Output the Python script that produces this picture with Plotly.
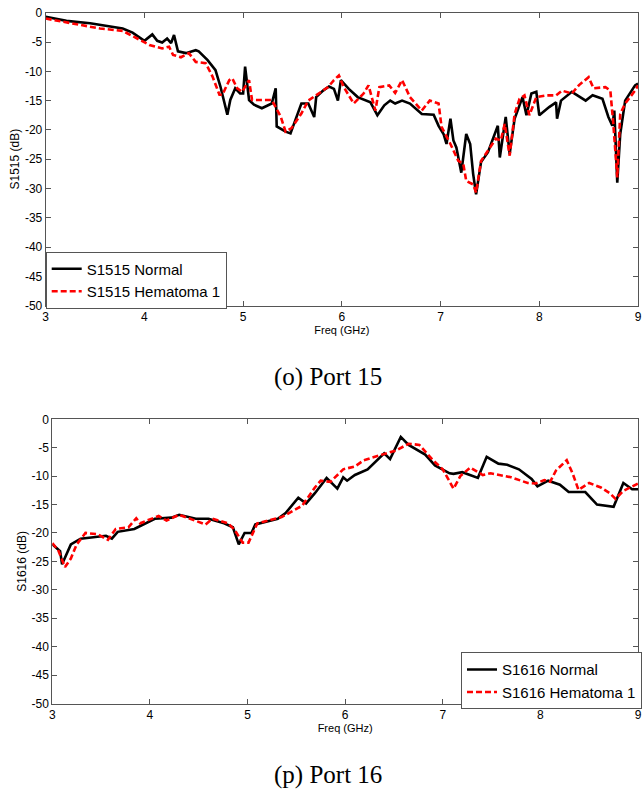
import plotly.graph_objects as go

# Port 15 reflection, S1515 (dB) vs frequency (GHz)
f15_normal = [3.00, 3.21, 3.45, 3.55, 3.78, 3.88, 4.00, 4.08, 4.13, 4.18, 4.23, 4.27, 4.30, 4.34,
              4.42, 4.52, 4.55, 4.64, 4.72, 4.77, 4.84, 4.87, 4.92, 4.97, 5.00, 5.02, 5.06, 5.11,
              5.19, 5.29, 5.33, 5.34, 5.43, 5.48, 5.59, 5.66, 5.72, 5.74, 5.81, 5.87, 5.92, 5.96,
              5.99, 6.07, 6.16, 6.29, 6.36, 6.43, 6.49, 6.54, 6.61, 6.69, 6.81, 6.93, 6.98, 7.03,
              7.06, 7.10, 7.13, 7.16, 7.21, 7.26, 7.30, 7.33, 7.36, 7.41, 7.48, 7.58, 7.60, 7.66,
              7.70, 7.75, 7.83, 7.87, 7.92, 7.97, 8.00, 8.10, 8.17, 8.18, 8.22, 8.33, 8.47, 8.54,
              8.64, 8.70, 8.74, 8.76, 8.79, 8.82, 8.87, 8.97, 9.00]
s15_normal = [-0.7, -1.4, -1.8, -2.1, -2.7, -3.4, -4.8, -3.7, -4.8, -5.1, -4.4, -5.2, -3.8, -6.6,
              -6.9, -6.4, -6.6, -8.1, -9.8, -12.6, -17.4, -14.9, -12.9, -13.8, -13.8, -9.2, -14.9, -15.7,
              -16.3, -15.5, -12.9, -19.4, -20.3, -20.6, -15.5, -15.5, -17.8, -14.4, -13.3, -12.6, -13.0, -15.0,
              -11.5, -13.0, -14.4, -15.3, -17.5, -15.8, -15.0, -15.5, -15.0, -15.5, -17.3, -17.4, -19.3, -20.7,
              -22.4, -18.1, -21.8, -23.0, -27.3, -20.7, -22.4, -27.5, -31.0, -25.5, -23.8, -19.3, -24.7, -17.8,
              -24.1, -18.1, -14.4, -17.5, -13.8, -13.5, -17.5, -16.1, -15.3, -18.1, -15.0, -13.5, -15.0, -14.1,
              -14.7, -17.8, -19.3, -16.7, -29.0, -20.7, -15.0, -12.4, -12.1]

f15_hema = [3.00, 3.55, 3.78, 3.92, 4.05, 4.18, 4.25, 4.29, 4.37, 4.45, 4.52, 4.62, 4.69, 4.76,
            4.79, 4.86, 4.89, 4.94, 4.99, 5.06, 5.09, 5.19, 5.29, 5.38, 5.43, 5.49, 5.59, 5.66,
            5.76, 5.86, 5.92, 5.97, 6.02, 6.12, 6.22, 6.27, 6.34, 6.38, 6.48, 6.54, 6.61, 6.69,
            6.81, 6.89, 6.98, 7.01, 7.10, 7.18, 7.23, 7.26, 7.33, 7.36, 7.41, 7.48, 7.56, 7.61,
            7.65, 7.70, 7.75, 7.80, 7.85, 7.90, 7.97, 8.07, 8.17, 8.23, 8.33, 8.40, 8.50, 8.55,
            8.67, 8.72, 8.75, 8.79, 8.82, 8.87, 8.97, 9.00]
s15_hema = [-1.0, -2.7, -3.1, -4.4, -5.5, -6.1, -5.8, -7.2, -7.6, -6.9, -8.4, -8.6, -10.9, -14.0,
            -14.0, -11.5, -11.2, -12.9, -13.5, -11.5, -14.9, -14.9, -14.9, -17.7, -20.3, -19.7, -17.2, -15.0,
            -13.8, -12.7, -11.5, -10.7, -12.7, -15.5, -13.8, -12.4, -16.7, -12.7, -12.4, -13.7, -11.5, -14.4,
            -16.7, -15.0, -15.5, -19.5, -22.4, -25.3, -25.8, -28.7, -29.3, -30.7, -25.3, -23.5, -21.5, -21.8,
            -19.0, -24.4, -17.3, -14.7, -14.1, -17.5, -14.4, -14.1, -14.1, -13.3, -13.8, -12.4, -11.0, -12.9,
            -12.7, -13.3, -19.0, -28.1, -17.3, -15.5, -13.3, -12.4]

# Port 16 reflection, S1616 (dB) vs frequency (GHz)
f16_normal = [3.00, 3.08, 3.10, 3.19, 3.29, 3.42, 3.55, 3.61, 3.67, 3.84, 4.05, 4.22, 4.30, 4.47,
              4.60, 4.76, 4.85, 4.91, 4.97, 5.04, 5.08, 5.31, 5.39, 5.52, 5.60, 5.69, 5.81, 5.92,
              5.98, 6.02, 6.10, 6.23, 6.40, 6.46, 6.57, 6.65, 6.82, 6.92, 7.07, 7.11, 7.20, 7.36,
              7.45, 7.57, 7.66, 7.78, 7.91, 7.97, 8.08, 8.20, 8.29, 8.46, 8.58, 8.75, 8.85, 8.94, 9.00]
s16_normal = [-22.0, -23.2, -25.5, -22.0, -21.0, -20.8, -20.5, -21.0, -19.8, -19.3, -17.5, -17.3, -16.8, -17.5,
              -17.5, -18.3, -19.0, -22.0, -20.0, -20.0, -18.5, -17.5, -16.5, -13.8, -14.8, -13.0, -10.3, -12.2,
              -10.2, -10.8, -9.8, -8.8, -6.0, -7.0, -3.1, -4.5, -6.2, -8.1, -9.5, -9.6, -9.3, -10.3,
              -6.6, -7.8, -8.0, -8.8, -10.5, -11.8, -10.8, -11.5, -12.8, -12.8, -15.0, -15.4, -11.2, -12.3, -12.3]

f16_hema = [3.00, 3.06, 3.13, 3.19, 3.25, 3.34, 3.46, 3.57, 3.65, 3.78, 3.86, 3.90, 4.09, 4.17,
            4.30, 4.47, 4.57, 4.64, 4.80, 4.87, 4.95, 5.01, 5.10, 5.35, 5.56, 5.69, 5.75, 5.85,
            5.98, 6.10, 6.19, 6.36, 6.52, 6.65, 6.76, 6.90, 7.00, 7.11, 7.18, 7.28, 7.41, 7.49,
            7.70, 7.87, 7.95, 8.04, 8.10, 8.16, 8.27, 8.33, 8.39, 8.50, 8.62, 8.71, 8.77, 8.85,
            8.94, 9.00]
s16_hema = [-21.8, -23.0, -26.0, -24.5, -22.0, -20.0, -20.2, -21.2, -19.3, -19.0, -17.4, -18.3, -17.0, -17.8,
            -16.8, -17.8, -18.5, -17.5, -18.3, -19.5, -21.7, -21.7, -18.3, -17.2, -15.2, -12.0, -10.8, -11.0,
            -8.8, -8.3, -7.2, -6.3, -5.5, -4.3, -4.5, -7.2, -8.8, -12.2, -10.0, -8.5, -9.8, -9.5,
            -10.2, -11.2, -11.3, -10.7, -11.0, -9.0, -7.2, -9.5, -12.4, -11.2, -12.0, -13.0, -14.0, -12.6,
            -11.8, -11.3]

x_ticks = [3, 4, 5, 6, 7, 8, 9]
y_ticks = [0, -5, -10, -15, -20, -25, -30, -35, -40, -45, -50]
y_tick_text = ["0", "-5", "-10", "-15", "-20", "-25", "-30", "-35", "-40", "-45", "-50"]

W, H = 643, 792
SANS = "Liberation Sans, Arial, sans-serif"
SERIF = "Liberation Serif, Times New Roman, serif"

fig = go.Figure()

fig.add_trace(go.Scatter(x=f15_normal, y=s15_normal, mode="lines", name="S1515 Normal",
                         line=dict(color="black", width=2.6), xaxis="x", yaxis="y", legend="legend"))
fig.add_trace(go.Scatter(x=f15_hema, y=s15_hema, mode="lines", name="S1515 Hematoma 1",
                         line=dict(color="#ff0000", width=2.6, dash="6px,3px"), xaxis="x", yaxis="y",
                         legend="legend"))
fig.add_trace(go.Scatter(x=f16_normal, y=s16_normal, mode="lines", name="S1616 Normal",
                         line=dict(color="black", width=2.6), xaxis="x2", yaxis="y2", legend="legend2"))
fig.add_trace(go.Scatter(x=f16_hema, y=s16_hema, mode="lines", name="S1616 Hematoma 1",
                         line=dict(color="#ff0000", width=2.6, dash="6px,3px"), xaxis="x2", yaxis="y2",
                         legend="legend2"))


def px_x(p):
    return p / W


def px_y(p):
    return 1 - p / H


axis_common = dict(
    showline=True, linecolor="#555555", linewidth=1, mirror="ticks",
    ticks="inside", ticklen=5, tickcolor="#555555", tickwidth=1,
    showgrid=False, zeroline=False,
    tickfont=dict(family=SANS, size=12, color="black"),
    ticklabeloverflow="allow",
    automargin=False,
)
title_font = dict(family=SANS, size=12, color="black")
legend_common = dict(xanchor="left", yanchor="top", bgcolor="white", bordercolor="#555555",
                     borderwidth=1, font=dict(family=SANS, size=15, color="black"),
                     tracegroupgap=0, itemwidth=30)

fig.update_layout(
    width=W, height=H,
    margin=dict(l=0, r=0, t=0, b=0),
    paper_bgcolor="white", plot_bgcolor="white",
    xaxis=dict(domain=[px_x(45.7), px_x(638.0)], range=[3, 9], tickvals=x_ticks, anchor="y",
               title=dict(text="Freq (GHz)", font=dict(family=SANS, size=11, color="black"), standoff=2),
               **axis_common),
    yaxis=dict(domain=[px_y(305.7), px_y(12.7)], range=[-50, 0], tickvals=y_ticks,
               ticktext=y_tick_text, anchor="x",
               title=dict(text="S1515 (dB)", font=title_font, standoff=2),
               **axis_common),
    xaxis2=dict(domain=[px_x(52.3), px_x(638.0)], range=[3, 9], tickvals=x_ticks, anchor="y2",
                title=dict(text="Freq (GHz)", font=dict(family=SANS, size=11, color="black"), standoff=2),
                **axis_common),
    yaxis2=dict(domain=[px_y(703.5), px_y(419.3)], range=[-50, 0], tickvals=y_ticks,
                ticktext=y_tick_text, anchor="x2",
                title=dict(text="S1616 (dB)", font=title_font, standoff=2),
                **axis_common),
    legend=dict(x=px_x(45.7), y=px_y(251.5), **legend_common),
    legend2=dict(x=px_x(461.0), y=px_y(652.3), **legend_common),
    annotations=[
        dict(text="(o) Port 15", x=px_x(328), y=px_y(377), xref="paper", yref="paper",
             showarrow=False, xanchor="center", yanchor="middle",
             font=dict(family=SERIF, size=25, color="black")),
        dict(text="(p) Port 16", x=px_x(328), y=px_y(775), xref="paper", yref="paper",
             showarrow=False, xanchor="center", yanchor="middle",
             font=dict(family=SERIF, size=25, color="black")),
    ],
)

fig.write_html("out.html")
